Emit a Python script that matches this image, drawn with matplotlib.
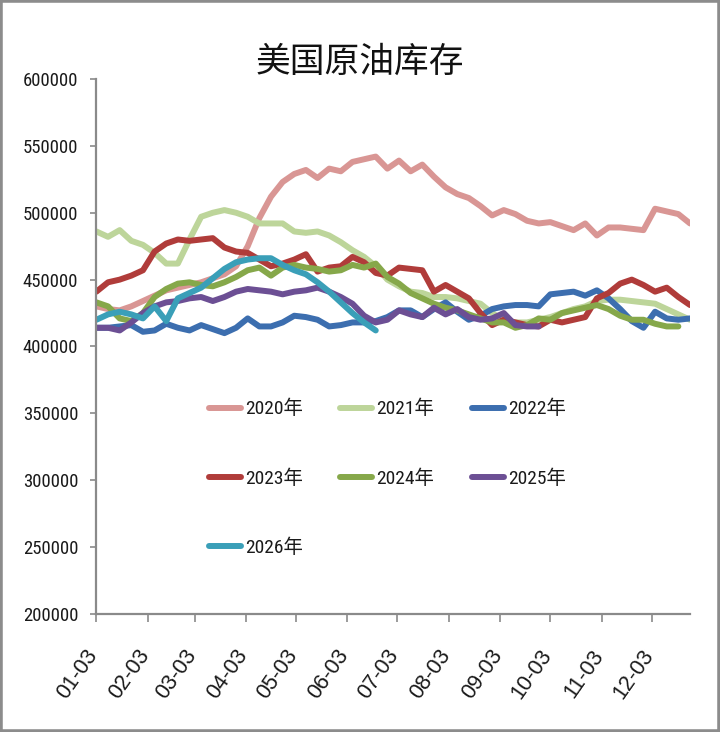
import matplotlib
matplotlib.use("Agg")
import matplotlib.pyplot as plt
import matplotlib.dates as mdates
import matplotlib.transforms as mtransforms
from matplotlib import font_manager
from matplotlib.patches import Rectangle
from matplotlib.ticker import MultipleLocator, FuncFormatter
import pandas as pd

# ---------------- data (thousand barrels, weekly) ----------------
week_start = "2021-01-03"
n_weeks = 52

y2020 = [430, 428, 427, 430, 434, 438, 442, 444, 446, 448, 451, 454, 460, 475, 496, 512,
         523, 529, 532, 526, 533, 531, 538, 540, 542, 533, 539, 531, 536, 527, 519, 514,
         511, 505, 498, 502, 499, 494, 492, 493, 490, 487, 492, 483, 489, 489, 488, 487,
         503, 501, 499, 492]
y2021 = [486, 482, 487, 479, 476, 470, 462, 462, 480, 497, 500, 502, 500, 497, 492, 492,
         492, 486, 485, 486, 483, 478, 472, 467, 460, 450, 445, 441, 440, 437, 437, 436,
         434, 432, 425, 420, 418, 418, 420, 422, 425, 428, 430, 434, 435, 435, 434, 433,
         432, 428, 424, 420]
y2022 = [414, 414, 415, 416, 411, 412, 417, 414, 412, 416, 413, 410, 414, 421, 415, 415,
         418, 423, 422, 420, 415, 416, 418, 418, 419, 422, 427, 427, 422, 428, 433, 426,
         420, 423, 428, 430, 431, 431, 430, 439, 440, 441, 438, 442, 436, 428, 419, 414,
         426, 421, 420, 421]
y2023 = [441, 448, 450, 453, 457, 471, 477, 480, 479, 480, 481, 474, 471, 470, 465, 460,
         462, 465, 469, 456, 459, 460, 467, 463, 455, 453, 459, 458, 457, 441, 446, 441,
         436, 425, 416, 420, 418, 416, 415, 420, 418, 420, 422, 436, 440, 447, 450, 446,
         441, 444, 437, 431]
y2024 = [433, 430, 421, 419, 425, 437, 443, 447, 448, 446, 445, 448, 452, 457, 459, 453,
         459, 461, 459, 458, 456, 457, 461, 459, 462, 452, 447, 440, 436, 432, 429, 427,
         424, 421, 418, 418, 414, 416, 421, 420, 425, 427, 429, 431, 428, 423, 420, 420,
         417, 415, 415]
y2025 = [414, 414, 412, 418, 425, 430, 433, 434, 436, 437, 434, 437, 441, 443, 442, 441,
         439, 441, 442, 444, 441, 437, 432, 423, 418, 420, 427, 424, 422, 429, 424, 428,
         422, 420, 421, 425, 416, 415, 415]
y2026 = [420, 424, 426, 424, 421, 430, 419, 436, 440, 444, 451, 458, 463, 465, 466, 466,
         461, 457, 454, 448, 441, 433, 425, 418, 412]

series_labels = ["2020年", "2021年", "2022年", "2023年", "2024年", "2025年", "2026年"]
series_values = [y2020, y2021, y2022, y2023, y2024, y2025, y2026]
series_colors = ["#D99694", "#BDD59A", "#3C6EAF", "#B03C3A", "#86A84A", "#6C4F94", "#3A9FB8"]

title_text = "美国原油库存"
y_min, y_max, y_step = 200000, 600000, 50000

# ---------------- fonts ----------------
installed = {f.name for f in font_manager.fontManager.ttflist}
narrow = next((f for f in ["Liberation Sans Narrow", "Roboto Condensed", "Open Sans Condensed",
                           "Liberation Sans"] if f in installed), "DejaVu Sans")
latin_fonts = [narrow, "Noto Sans CJK SC", "DejaVu Sans"]
plt.rcParams["font.family"] = latin_fonts

# ---------------- figure ----------------
fig = plt.figure(figsize=(7.2, 7.32), dpi=100)
ax = fig.add_axes([96.4 / 720, 1 - 614 / 732, (690 - 96.4) / 720, (614 - 79) / 732])

dates = pd.date_range(week_start, periods=n_weeks, freq="7D")
handles = []
for lab, vals, col in zip(series_labels, series_values, series_colors):
    (h,) = ax.plot(dates[:len(vals)], [v * 1000 for v in vals], color=col, lw=4.3,
                   solid_joinstyle="round", solid_capstyle="round", label=lab)
    handles.append(h)

ax.set_xlim(dates[0], dates[-1])
ax.set_ylim(y_min, y_max)
ax.yaxis.set_major_locator(MultipleLocator(y_step))
ax.yaxis.set_major_formatter(FuncFormatter(lambda v, p: f"{int(v)}"))
ax.xaxis.set_major_locator(mdates.MonthLocator(bymonthday=3))
ax.xaxis.set_major_formatter(mdates.DateFormatter("%m-%d"))

for s in ["top", "right"]:
    ax.spines[s].set_visible(False)
for s in ["left", "bottom"]:
    ax.spines[s].set_color("#8a8a8a")
    ax.spines[s].set_linewidth(1.6)

ax.tick_params(axis="y", direction="out", length=4, width=1.2, color="#8a8a8a",
               labelsize=13.5, pad=9, labelcolor="#1a1a1a")
ax.tick_params(axis="x", direction="out", length=6, width=1.2, color="#8a8a8a",
               labelsize=15.5, pad=17, labelcolor="#1a1a1a")
offset = mtransforms.ScaledTranslation(6 / 100, 0, fig.dpi_scale_trans)
for lbl in ax.get_xticklabels():
    lbl.set_rotation(55)
    lbl.set_ha("right")
    lbl.set_va("top")
    lbl.set_fontfamily(["Liberation Sans", "DejaVu Sans"])
    lbl.set_transform(lbl.get_transform() + offset)

fig.text(0.5, 1 - 62 / 732, title_text, ha="center", va="center", fontsize=25,
         family=["Noto Sans CJK SC", "DejaVu Sans"], color="#111111")

order = [0, 3, 6, 1, 4, 2, 5]
leg = ax.legend([handles[i] for i in order], [series_labels[i] for i in order],
                ncol=3, loc="upper left", bbox_to_anchor=(208.5 / 720, 1 - 400 / 732),
                bbox_transform=fig.transFigure, frameon=False, borderpad=0,
                borderaxespad=0, handlelength=1.65, handletextpad=0.23,
                columnspacing=1.9, labelspacing=2.61,
                prop={"size": 14, "family": [narrow, "Noto Sans CJK SC"]})
for t in leg.get_texts():
    t.set_color("#1a1a1a")

fig.patches.append(Rectangle((0, 0), 1, 1, transform=fig.transFigure, fill=False,
                             edgecolor="#8c8c8c", linewidth=4, zorder=10))

fig.savefig("out.png", dpi=100)
